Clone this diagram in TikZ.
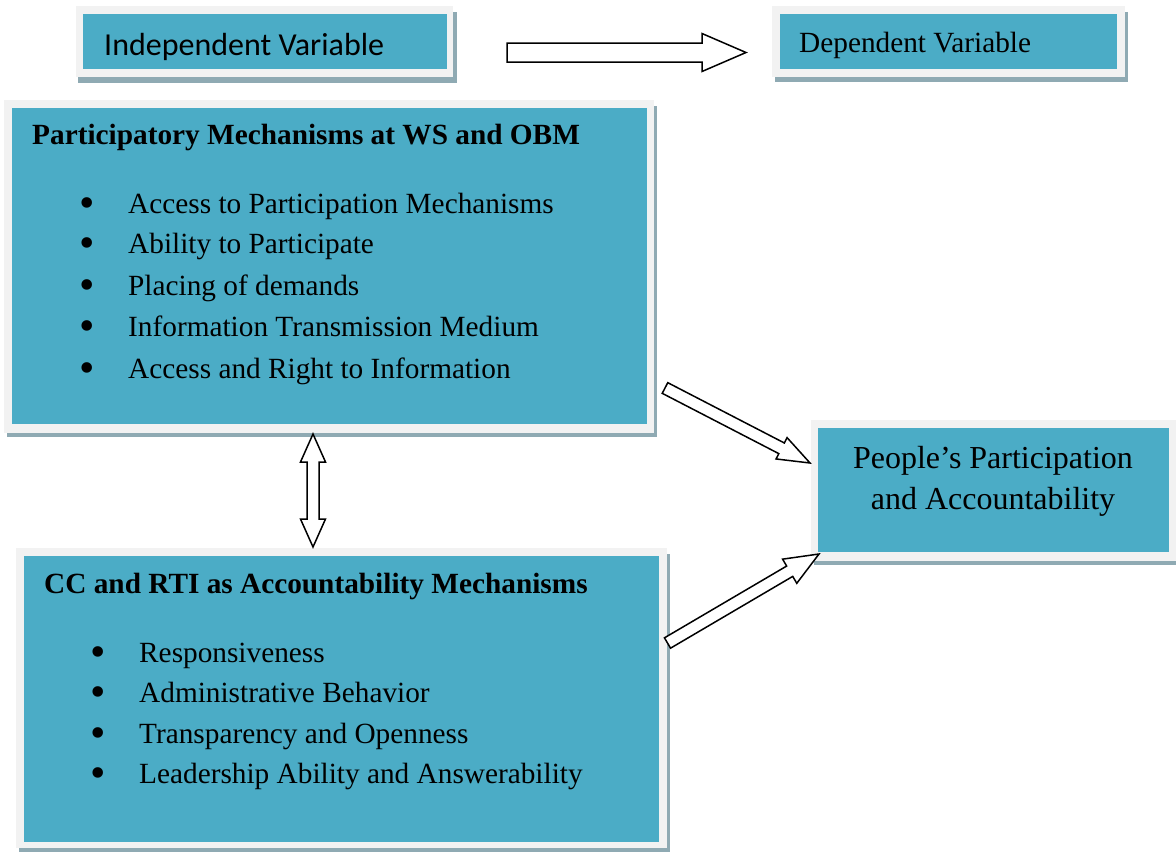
\documentclass[tikz,border=0pt]{standalone}
\usepackage{fontspec}
\setmainfont{Liberation Serif}
\newfontfamily\calibri{Carlito}
\usetikzlibrary{calc}
\definecolor{teal1}{HTML}{4BACC6}
\definecolor{frame1}{HTML}{F2F2F2}
\definecolor{shadow1}{HTML}{8FAAB3}
\tikzset{
  blockarr/.style={draw=black, fill=white, line width=1.5pt, line join=miter},
  txt/.style={anchor=base west, inner sep=0pt, font=\fontsize{29.3}{34}\selectfont},
  ttl/.style={txt, font=\fontsize{29.3}{34}\selectfont\bfseries},
  bul/.style={anchor=base, inner sep=0pt, font=\fontsize{44}{48}\selectfont},
}
\newcommand\singlearrow[5]{% tail, tip, half shaft, half head, head length
  \coordinate (#1-h) at ($(#2)!#5!(#1)$);
  \draw[blockarr] ($(#1)!#3!90:(#2)$) -- ($(#1-h)!#3!90:(#2)$) -- ($(#1-h)!#4!90:(#2)$) -- (#2)
    -- ($(#1-h)!#4!-90:(#2)$) -- ($(#1-h)!#3!-90:(#2)$) -- ($(#1)!#3!-90:(#2)$) -- cycle;}
\newcommand\doublearrow[5]{% tip a, tip b, half shaft, half head, head length
  \coordinate (#1-ha) at ($(#1)!#5!(#2)$);
  \coordinate (#1-hb) at ($(#2)!#5!(#1)$);
  \draw[blockarr] (#1) -- ($(#1-ha)!#4!90:(#2)$) -- ($(#1-ha)!#3!90:(#2)$) -- ($(#1-hb)!#3!90:(#2)$)
    -- ($(#1-hb)!#4!90:(#2)$) -- (#2) -- ($(#1-hb)!#4!-90:(#2)$) -- ($(#1-hb)!#3!-90:(#2)$)
    -- ($(#1-ha)!#3!-90:(#2)$) -- ($(#1-ha)!#4!-90:(#2)$) -- cycle;}
\begin{document}
\begin{tikzpicture}[x=1pt, y=-1pt]
\useasboundingbox (0,0) rectangle (1176,852);
\clip (0,0) rectangle (1176,852);
% panels
\coordinate (i1) at (83,14); \coordinate (i2) at (447,69);
\fill[shadow1] (78,12) rectangle (457,83);
\fill[frame1] (76,6) rectangle (453,77);
\fill[teal1] (i1) rectangle (i2);
\coordinate (d1) at (780,14); \coordinate (d2) at (1117,69);
\fill[shadow1] (775,12) rectangle (1128,82);
\fill[frame1] (772,6) rectangle (1125,77);
\fill[teal1] (d1) rectangle (d2);
\coordinate (p1) at (12,108); \coordinate (p2) at (647,424);
\fill[shadow1] (7,106) rectangle (657,437);
\fill[frame1] (4,100) rectangle (654,433);
\fill[teal1] (p1) rectangle (p2);
\coordinate (c1) at (24,556); \coordinate (c2) at (659,842);
\fill[shadow1] (19,554) rectangle (670,852);
\fill[frame1] (16,548) rectangle (667,848);
\fill[teal1] (c1) rectangle (c2);
\coordinate (o1) at (818,428); \coordinate (o2) at (1169,552);
\fill[shadow1] (814,426) rectangle (1180,565);
\fill[frame1] (811,420) rectangle (1176,561);
\fill[teal1] (o1) rectangle (o2);
% texts
\node[anchor=base west, inner sep=0pt, font=\calibri\fontsize{32}{36}\selectfont] (indep) at (104,55) {Independent Variable};
\node[txt] (dep) at (799,52) {Dependent Variable};
\node[ttl] (pmt) at (32,144) {Participatory Mechanisms at WS and OBM};
\foreach \y/\t [count=\k] in {213/Access to Participation Mechanisms, 253/Ability to Participate, 295/Placing of demands, 336/Information Transmission Medium, 378/Access and Right to Information}{
  \node[bul] (pb\k) at (87,\y+4) {•};
  \node[txt] (pt\k) at (128,\y) {\t};
}
\node[ttl] (cct) at (44,593) {CC and RTI as Accountability Mechanisms};
\foreach \y/\t [count=\k] in {662/Responsiveness, 702/Administrative Behavior, 743/Transparency and Openness, 783/Leadership Ability and Answerability}{
  \node[bul] (cb\k) at (98,\y+4) {•};
  \node[txt] (ct\k) at (139,\y) {\t};
}
\node[anchor=base, inner sep=0pt, font=\fontsize{32}{36}\selectfont] (out1) at (993,468) {People’s Participation};
\node[anchor=base, inner sep=0pt, font=\fontsize{32}{36}\selectfont] (out2) at (993,509) {and Accountability};
% arrows
\coordinate (a1) at (507,52.5); \coordinate (a1e) at (746,52.5);
\singlearrow{a1}{a1e}{9.5pt}{19pt}{44pt}
\coordinate (a2) at (665,388); \coordinate (a2e) at (810,463);
\singlearrow{a2}{a2e}{6pt}{12pt}{32pt}
\coordinate (a3) at (667.5,643); \coordinate (a3e) at (819,554);
\singlearrow{a3}{a3e}{6pt}{14pt}{34pt}
\coordinate (a4) at (313,434); \coordinate (a4e) at (313,547);
\doublearrow{a4}{a4e}{6pt}{12.5pt}{28pt}
\end{tikzpicture}
\end{document}
